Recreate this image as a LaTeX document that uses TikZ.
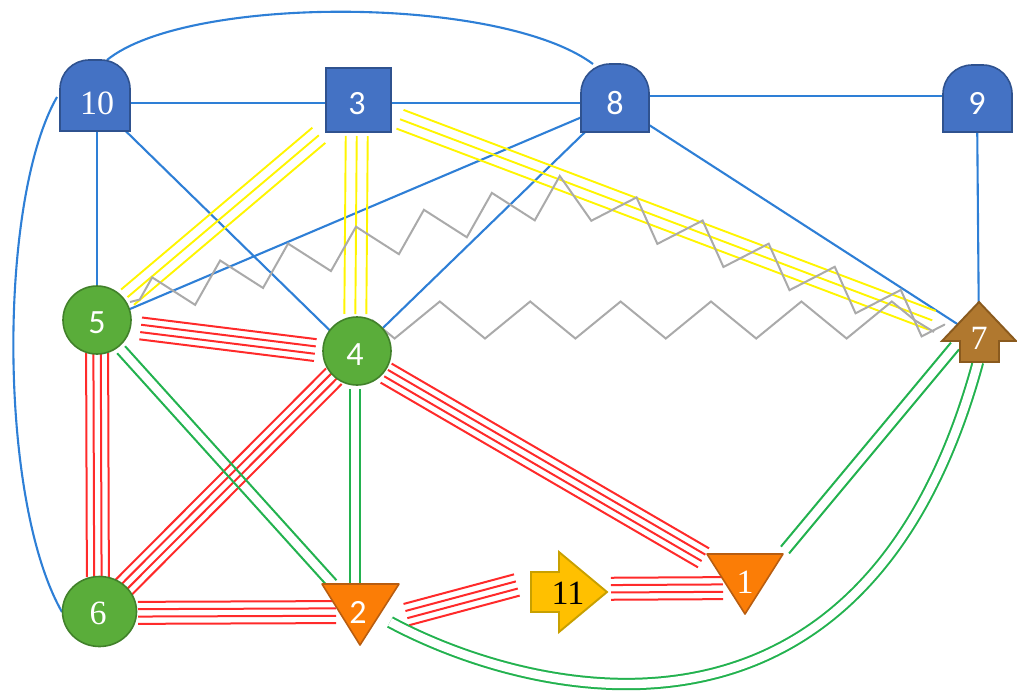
\documentclass[tikz,border=0pt]{standalone}
\usepackage{fontspec}
\setmainfont{Liberation Serif}
\newfontfamily\sansdig{Carlito}
\usetikzlibrary{calc,decorations.pathmorphing}
\pgfdeclarelayer{edges}
\pgfsetlayers{edges,main}
\definecolor{bluefill}{HTML}{4472C4}
\definecolor{blueborder}{HTML}{2F528F}
\definecolor{greenfill}{HTML}{5AAD3A}
\definecolor{greenborder}{HTML}{41812A}
\definecolor{orangefill}{HTML}{FB7D06}
\definecolor{orangeborder}{HTML}{B85D10}
\definecolor{brownfill}{HTML}{B0782F}
\definecolor{brownborder}{HTML}{8A5A1E}
\definecolor{goldfill}{HTML}{FFC000}
\definecolor{goldborder}{HTML}{C8A000}
\definecolor{linkblue}{HTML}{2E7FD6}
\definecolor{lineyellow}{HTML}{FFF500}
\definecolor{linered}{HTML}{FF2A2A}
\definecolor{linegreen}{HTML}{23B24F}
\definecolor{zzgray}{HTML}{AAAAAA}
\newcommand\mlines[4]{\foreach \o in {#4}{\draw[#1] ($(#2)!\o!90:(#3)$) -- ($(#3)!\o!-90:(#2)$);}}
\newcommand\mydome[5]{\filldraw[domeshape] (#1,{#2+#4}) -- (#1,{#2+#5}) .. controls (#1,{#2+0.448*#5}) and ({#1+0.448*#5},#2) .. ({#1+#5},#2) -- ({#1+#3-#5},#2) .. controls ({#1+#3-0.448*#5},#2) and ({#1+#3},{#2+0.448*#5}) .. ({#1+#3},{#2+#5}) -- ({#1+#3},{#2+#4}) -- cycle;}
\begin{document}
\begin{tikzpicture}[x=1pt,y=-1pt,
  bl/.style={draw=linkblue, line width=2.1pt},
  yl/.style={draw=lineyellow, line width=1.9pt},
  rd/.style={draw=linered, line width=2pt},
  gn/.style={draw=linegreen, line width=2pt},
  gdbl/.style={draw=linegreen, line width=2pt, double=white, double distance=8.4pt},
  zz/.style={draw=zzgray, line width=2pt, decorate},
  domeshape/.style={fill=bluefill, draw=blueborder, line width=1.6pt},
  sqshape/.style={fill=bluefill, draw=blueborder, line width=1.9pt},
  gshape/.style={fill=greenfill, draw=greenborder, line width=1.6pt},
  oshape/.style={fill=orangefill, draw=orangeborder, line width=1.6pt, line join=round},
  brshape/.style={fill=brownfill, draw=brownborder, line width=1.9pt},
  goshape/.style={fill=goldfill, draw=goldborder, line width=1.9pt},
  lab/.style={inner sep=0pt, text depth=0pt, text=white, font=\fontsize{34}{34}\selectfont},
  slab/.style={lab, font=\sansdig\fontsize{34}{34}\selectfont},
]
\useasboundingbox (0,0) rectangle (1017,691);
% ---- shapes
\mydome{60}{60}{70}{71}{29}
\mydome{581}{64}{68}{68}{29}
\mydome{943}{65}{69}{67}{29}
\filldraw[sqshape] (326,68) rectangle (391,132);
\filldraw[gshape] (97,320) circle[radius=34];
\filldraw[gshape] (357,351) circle[radius=34];
\filldraw[gshape] (99.5,611.5) ellipse[x radius=37, y radius=35];
\filldraw[oshape] (322,584) -- (399,584) -- (360,645) -- cycle;
\filldraw[oshape] (707,554) -- (783,554) -- (745,614) -- cycle;
\filldraw[goshape] (531,572) -- (559,572) -- (559,552) -- (607,592) -- (559,632) -- (559,612) -- (531,612) -- cycle;
\filldraw[brshape] (979,302) -- (1016,341) -- (999,341) -- (999,362) -- (960,362) -- (960,341) -- (942,341) -- cycle;
% ---- labels
\node[lab]  (n10) at (97,103)  {10};
\node[slab] (n3)  at (357,103) {3};
\node[slab] (n8)  at (615,103) {8};
\node[slab] (n9)  at (977,103) {9};
\node[lab]  (n7)  at (979,338) {7};
\node[slab] (n5)  at (97,323)  {5};
\node[slab] (n4)  at (355,355) {4};
\node[lab]  (n6)  at (98,613)  {6};
\node[slab] (n2)  at (358,612) {2};
\node[lab]  (n1)  at (745,582) {1};
\node[lab, text=black] (n11) at (568,593) {11};
% ---- helper coordinates
\coordinate (zbend) at (568,193);
\coordinate (n2p) at ($(n2)+(2,15)$);
\coordinate (n11p) at ($(n11)+(1,-22)$);
\coordinate (n11q) at ($(n11)+(0,-4)$);
\coordinate (n1q) at ($(n1)+(0,6)$);
\coordinate (c7a) at ($(n7)+(-24,8)$);
\coordinate (c1a) at ($(n1)+(40,-32)$);
% ---- edges
\begin{pgfonlayer}{edges}
% blue
\draw[bl] (n10.center) -- (n3.center);
\draw[bl] (n3.center) -- (n8.center);
\draw[bl] ($(n8)+(0,-7)$) -- ($(n9)+(0,-7)$);
\draw[bl] (n10.center) -- (n5.center);
\draw[bl] (n10.center) -- (n4.center);
\draw[bl] (n8.center) -- (n5.center);
\draw[bl] (n8.center) -- (n4.center);
\draw[bl] (n8.center) -- (n7.center);
\draw[bl] (n9.center) -- (n7.center);
\draw[bl] ($(n10)+(10,-43)$) .. controls ($(n10)+(90,-108)$) and ($(n8)+(-115,-108)$) .. ($(n8)+(-22,-39)$);
\draw[bl] ($(n10)+(-40,-6)$) .. controls ($(n10)+(-99,97)$) and ($(n6)+(-100,-113)$) .. ($(n6)+(-36,-1)$);
% yellow triple
\mlines{yl, shorten <=50pt, shorten >=40pt}{n3}{n5}{-10pt,0pt,10pt}
\mlines{yl, shorten <=33pt, shorten >=41pt}{n3}{n4}{-11pt,0pt,11pt}
\mlines{yl, shorten <=46pt, shorten >=50pt}{n3}{n7}{-10pt,0pt,10pt}
% gray zigzags
\draw[zz, decoration={zigzag, segment length=70pt, amplitude=18.5pt, pre length=10pt}] ($(n5)+(33,-21)$) -- (zbend) -- ($(n7)+(-34,-13)$);
\draw[zz, decoration={zigzag, segment length=90.4pt, amplitude=-18.5pt}] ($(n4)+(17,-35)$) -- ($(n7)+(-64,-18)$) -- ($(n7)+(-45,-6)$);
% red quadruple
\mlines{rd, shorten <=44pt, shorten >=40pt}{n5}{n4}{-11pt,-3.7pt,3.7pt,11pt}
\mlines{rd, shorten <=30pt, shorten >=36pt}{n5}{n6}{-11pt,-3.7pt,3.7pt,11pt}
\mlines{rd, shorten <=30pt, shorten >=36pt}{n4}{n6}{-11pt,-3.7pt,3.7pt,11pt}
\mlines{rd, shorten <=36pt, shorten >=48pt}{n4}{n1}{-11pt,-3.7pt,3.7pt,11pt}
\mlines{rd, shorten <=40pt, shorten >=22pt}{n6}{n2}{-11pt,-3.7pt,3.7pt,11pt}
\mlines{rd, shorten <=48pt, shorten >=54pt}{n2p}{n11p}{-11pt,-3.7pt,3.7pt,11pt}
\mlines{rd, shorten <=43pt, shorten >=22pt}{n11q}{n1q}{-11pt,-3.7pt,3.7pt,11pt}
% green double
\mlines{gn, shorten <=36pt, shorten >=38pt}{n5}{n2}{-5.3pt,5.3pt}
\mlines{gn, shorten <=34pt, shorten >=28pt}{n4}{n4 |- n2}{-5.3pt,5.3pt}
\mlines{gn}{c7a}{c1a}{-5.3pt,5.3pt}
\draw[gdbl] ($(n2)+(32,10)$) .. controls ($(n2)+(162,80)$) and ($(n7)+(-117,452)$) .. ($(n7)+(-1,24)$);
\end{pgfonlayer}
\end{tikzpicture}
\end{document}
